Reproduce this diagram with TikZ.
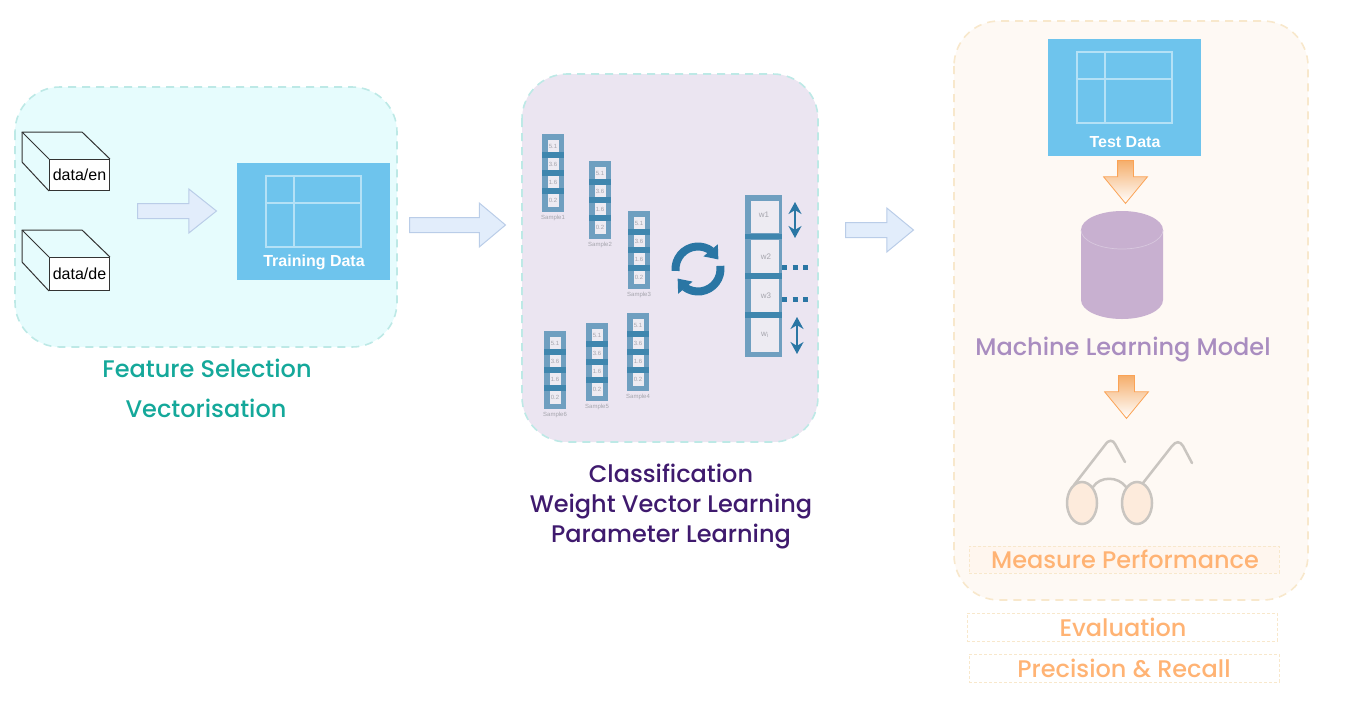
\documentclass[tikz,border=0pt]{standalone}
\usepackage{fontspec}
\setmainfont{Liberation Sans}
\newfontfamily\labfont{Poppins Medium}
\usepackage{xcolor}
\definecolor{selfill}{HTML}{E6FCFD}
\definecolor{clsfill}{HTML}{EBE5F1}
\definecolor{evalfill}{HTML}{FEF9F4}
\definecolor{tealedge}{HTML}{BDE9E6}
\definecolor{sandedge}{HTML}{F8E8CC}
\definecolor{skyblue}{HTML}{6EC4ED}
\definecolor{gridline}{HTML}{B4E1F6}
\definecolor{arrfill}{HTML}{E2EDFB}
\definecolor{arredge}{HTML}{BACDE8}
\definecolor{vecframe}{HTML}{6F9FC0}
\definecolor{vecbar}{HTML}{3F86AE}
\definecolor{veccell}{HTML}{EDEBF2}
\definecolor{deepblue}{HTML}{2A76A4}
\definecolor{mute}{HTML}{A5A5AD}
\definecolor{tealtxt}{HTML}{14A89A}
\definecolor{plumtxt}{HTML}{3F1A6E}
\definecolor{liltxt}{HTML}{A98DC0}
\definecolor{orgtxt}{HTML}{FFB374}
\definecolor{orgedge}{HTML}{FBA355}
\definecolor{orgtop}{HTML}{F5AE6B}
\definecolor{cylfill}{HTML}{C8B0D0}
\definecolor{lensfill}{HTML}{FDEBDC}
\definecolor{lensedge}{HTML}{C9C5C0}
\usetikzlibrary{arrows.meta,bending,shapes.arrows}
\tikzset{
  panel/.style={line width=1.6pt,dash pattern=on 8pt off 6pt,rounded corners=45pt},
  cubebox/.style={draw=black!80,fill=white,line width=1pt,inner sep=0pt,font=\fontsize{16}{16}\selectfont},
  dataface/.style={draw=gridline,line width=1.8pt},
  datatxt/.style={font=\fontsize{16}{16}\selectfont\bfseries,text=white,inner sep=0pt},
  blockarr/.style={single arrow,draw=arredge,fill=arrfill,line width=1pt,inner sep=0pt,text height=14pt,text depth=0pt,text width=0pt,single arrow head extend=14.5pt,anchor=tail},
  orgarr/.style={single arrow,shape border rotate=270,draw=orgedge,top color=orgtop,bottom color=white,line width=0.8pt,inner sep=0pt,text height=0pt,text depth=0pt,text width=15pt,single arrow head extend=14pt,single arrow tip angle=79,minimum height=43pt,anchor=tail},
  lab/.style={font=\labfont\fontsize{24}{24}\selectfont,inner sep=0pt,align=center},
  tagbox/.style={draw=sandedge,line width=0.8pt,dash pattern=on 3pt off 2pt,inner sep=0pt,minimum width=310pt,minimum height=27pt},
  cellnum/.style={font=\fontsize{6}{6}\selectfont,text=mute,inner sep=0pt},
  wnum/.style={font=\fontsize{8}{8}\selectfont,text=mute,inner sep=0pt},
  glass/.style={draw=lensedge,line width=2.5pt,line cap=round},
  cyc/.style={draw=deepblue,line width=8pt,-{Triangle[length=12pt,width=18pt,flex]}},
  updown/.style={draw=deepblue,line width=1.8pt,{Stealth[length=12pt,width=13pt]}-{Stealth[length=12pt,width=13pt]}},
  wdots/.style={draw=deepblue,line width=5pt,dash pattern=on 5pt off 5.5pt},
}
\begin{document}
\begin{tikzpicture}[x=1pt,y=-1pt]
\useasboundingbox (0,0) rectangle (1346,710);
% the three panels
\draw[panel,draw=tealedge,fill=selfill] (15,87) rectangle (397,347);
\draw[panel,draw=tealedge,fill=clsfill] (522,74) rectangle (818,442);
\draw[panel,draw=sandedge,fill=evalfill] (954,21) rectangle (1308,600);
% input folders
\foreach \name/\yt/\h/\txt in {cuben/159/31/data\slash en,cubede/257/33/data\slash de}{
  \node[cubebox,minimum width=60pt,minimum height=\h pt,anchor=north west] (\name) at (49,\yt) {\txt};
  \draw[black!80,line width=1pt,line join=round] (\name.north west) -- ++(-27,-27) -- ++(60,0) -- (\name.north east);
  \draw[black!80,line width=1pt,line join=round] (\name.north west) ++(-27,-27) -- ++(0,\h-1) -- (\name.south west);
}
% data tables
\foreach \x/\y/\vx/\vy in {237/163/294/203,1048/39/1105/79}{
  \fill[skyblue] (\x,\y) rectangle ++(153,117);
  \draw[dataface] (\x+29,\y+13) rectangle ++(95,71);
  \draw[dataface] (\vx,\y+13) -- ++(0,71);
  \draw[dataface] (\x+29,\vy) -- ++(95,0);
}
\node[datatxt] (traintxt) at (314,262) {Training Data};
\node[datatxt] (testtxt) at (1125,142) {Test Data};
% block arrows
\node[blockarr,minimum height=79pt,single arrow tip angle=77] (arrsel) at (137,211) {};
\node[blockarr,minimum height=96pt,single arrow tip angle=80] (arrcls) at (409,225) {};
\node[blockarr,minimum height=68pt,single arrow tip angle=79] (arreval) at (845,230) {};
\node[orgarr] (arrtest) at (1125.5,160) {};
\node[orgarr] (arrmodel) at (1126.5,375) {};
% sample vectors
\foreach \name/\x/\y/\k in {vecone/542/134/1,vectwo/589/161/2,vecthree/628/211/3,vecfour/627/313/4,vecfive/586/323/5,vecsix/544/331/6}{
  \fill[vecframe] (\x,\y) rectangle ++(22,78);
  \foreach \cy/\v in {6/5.1,24/3.6,42/1.6,60/0.2}{
    \fill[veccell] (\x+6,\y+\cy) rectangle ++(10.5,12.5);
    \node[cellnum] (\name-\v) at (\x+11,\y+\cy+6.2) {\v};
  }
  \foreach \by in {21,39,57}{ \fill[vecbar] (\x,\y+\by-2.7) rectangle ++(22,5.4); }
  \node[cellnum] (\name-lab) at (\x+11,\y+84) {Sample\k};
}
% weight vector
\fill[vecframe] (745,195) rectangle (782,357);
\foreach \cy/\hh in {201/32,240/33,279/33,318/34}{
  \fill[veccell] (751,\cy) rectangle ++(27.5,\hh);
}
\foreach \by in {236.5,276,315}{ \fill[vecbar] (745,\by-2.7) rectangle (782,\by+2.7); }
\node[wnum] (wone) at (764,215) {w1};
\node[wnum] (wtwo) at (766,257) {w2};
\node[wnum] (wthree) at (766,296) {w3};
\node[wnum] (wlast) at (765,335) {w$_{\mathrm i}$};
\coordinate (cyccen) at (698,269);
\draw[cyc] (cyccen) ++(175:22.5) arc[start angle=175,end angle=335,radius=22.5];
\draw[cyc] (cyccen) ++(352:22.5) arc[start angle=352,end angle=515,radius=22.5];
\coordinate (upa) at (795,202);
\coordinate (upb) at (795,238);
\coordinate (dna) at (797,317);
\coordinate (dnb) at (797,354);
\draw[updown] (upa) -- (upb);
\draw[updown] (dna) -- (dnb);
\coordinate (dota) at (782,267);
\coordinate (dotb) at (809,267);
\coordinate (dotc) at (782,299);
\coordinate (dotd) at (809,299);
\draw[wdots] (dota) -- (dotb);
\draw[wdots] (dotc) -- (dotd);
% model cylinder
\fill[cylfill] (1081,230) -- (1081,300) arc[start angle=180,end angle=0,x radius=41,y radius=19] -- (1163,230) arc[start angle=0,end angle=-180,x radius=41,y radius=19] -- cycle;
\draw[cylfill!70!white,line width=0.7pt] (1081,230) arc[start angle=180,end angle=0,x radius=41,y radius=19];
% glasses
\draw[glass] (1074,485) -- (1105,445) .. controls (1109,439) and (1113,440) .. (1115,444) -- (1125,462);
\draw[glass] (1143,483) -- (1172,446) .. controls (1176,441) and (1180,441) .. (1183,446) -- (1192,463);
\draw[glass] (1093,487) .. controls (1100,476) and (1118,476) .. (1126,487);
\draw[glass,fill=lensfill] (1082,503) circle[x radius=15,y radius=21];
\draw[glass,fill=lensfill] (1137,503) circle[x radius=15,y radius=21];
% captions
\node[lab,text=tealtxt] (capfeat) at (207,368) {Feature Selection};
\node[lab,text=tealtxt] (capvec) at (206,408) {Vectorisation};
\node[lab,text=plumtxt] (capcls) at (671,473) {Classification};
\node[lab,text=plumtxt] (capweight) at (671,507) {Weight Vector Learning};
\node[lab,text=plumtxt] (capparam) at (671,537) {Parameter Learning};
\node[lab,text=liltxt] (capmodel) at (1123,350) {Machine Learning Model};
\node[tagbox,fill=orgtxt!12] (boxperf) at (1124,559.5) {};
\node[tagbox,minimum height=28pt] (boxeval) at (1122,627) {};
\node[tagbox,minimum height=28pt] (boxprec) at (1124,668) {};
\node[lab,text=orgtxt] (capperf) at (1125,559) {Measure Performance};
\node[lab,text=orgtxt] (capeval) at (1123,627) {Evaluation};
\node[lab,text=orgtxt] (capprec) at (1124,668) {Precision \& Recall};
\end{tikzpicture}
\end{document}
